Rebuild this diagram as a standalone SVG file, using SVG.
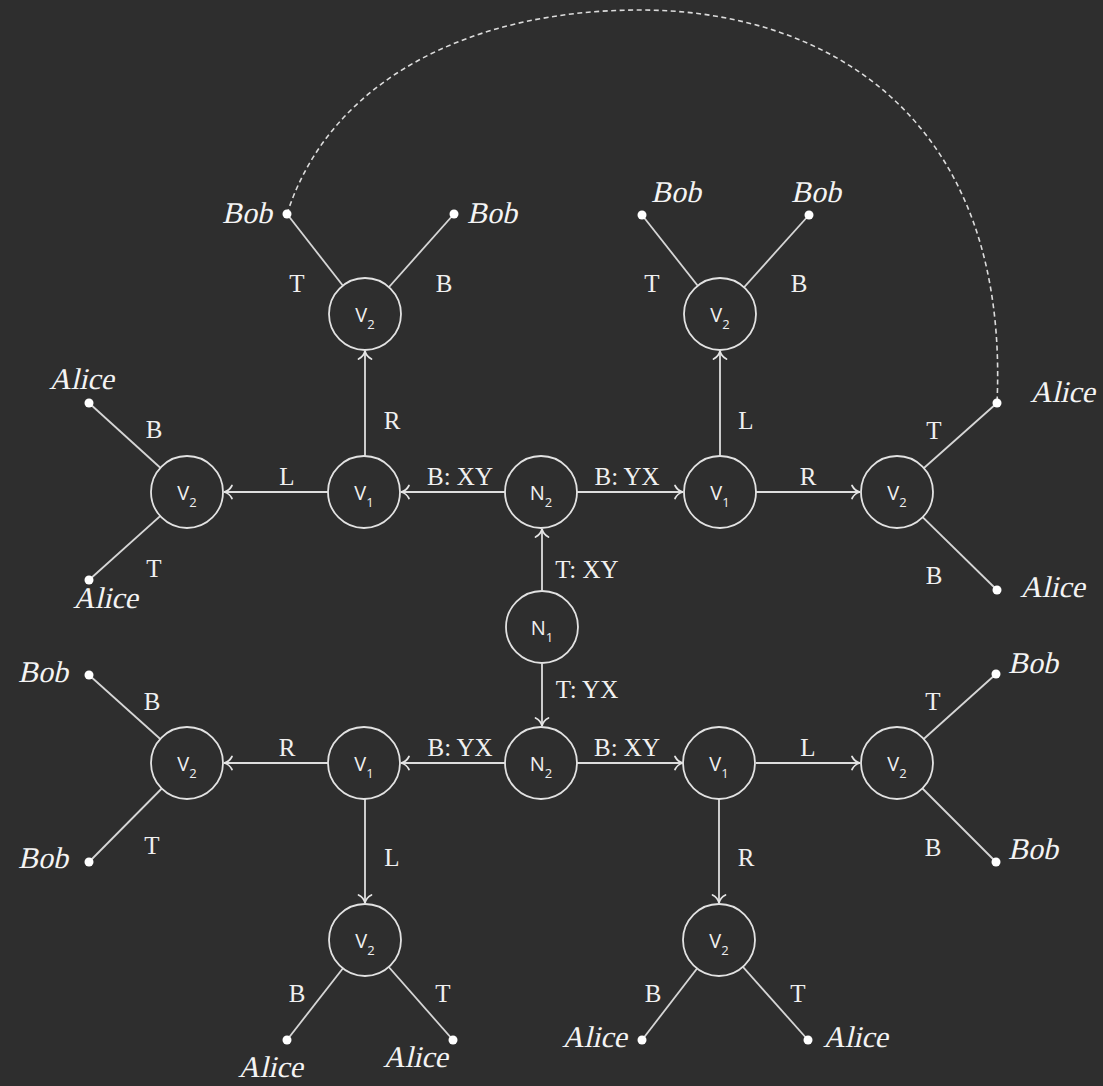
<svg xmlns="http://www.w3.org/2000/svg" width="1103" height="1086" viewBox="0 0 1103 1086">
<style>
.bg{fill:#2e2e2e}
.edge{stroke:#dedede;stroke-width:1.8;fill:none}
.leaf{stroke:#d6d6d6;stroke-width:1.8;fill:none}
.dash{stroke:#dcdcdc;stroke-width:1.6;fill:none;stroke-dasharray:5 3.5}
.node circle{fill:#2e2e2e;stroke:#e2e2e2;stroke-width:1.8}
.nl{font-family:"Open Sans","Liberation Sans",sans-serif;font-size:20px;fill:#f0f0f0;text-anchor:middle}
.sub{font-size:13px}
.el{font-family:"Liberation Serif","DejaVu Serif",serif;font-size:25px;fill:#f0f0f0;text-anchor:middle}
.name{font-family:"Liberation Serif","DejaVu Serif",serif;font-size:30px;fill:#f4f4f4}
.dot{fill:#ffffff}
</style>
<defs>
<marker id="arr" markerUnits="userSpaceOnUse" markerWidth="16" markerHeight="16" viewBox="-10 -8 12 16" refX="0" refY="0" orient="auto">
<path d="M-8,-6.5 C-6,-2.5 -2.5,-0.6 0,0 C-2.5,0.6 -6,2.5 -8,6.5" stroke="#e6e6e6" stroke-width="1.7" fill="none" stroke-linecap="round"/>
</marker>
</defs>
<rect class="bg" x="0" y="0" width="1103" height="1086"/>

<g id="connectors">
<!-- dashed arc -->
<path class="dash" d="M287,214 C330,80 470,10 640,10 C830,10 1010,120 997,403"/>
<!-- leaf lines -->
<line class="leaf" x1="365" y1="314" x2="287" y2="214"/>
<line class="leaf" x1="365" y1="314" x2="454" y2="214"/>
<line class="leaf" x1="720" y1="314" x2="642" y2="215"/>
<line class="leaf" x1="720" y1="314" x2="809" y2="215"/>
<line class="leaf" x1="187" y1="492" x2="89" y2="403"/>
<line class="leaf" x1="187" y1="492" x2="89" y2="580"/>
<line class="leaf" x1="897" y1="492" x2="997" y2="403"/>
<line class="leaf" x1="897" y1="492" x2="997" y2="590"/>
<line class="leaf" x1="187" y1="763" x2="89" y2="675"/>
<line class="leaf" x1="187" y1="763" x2="89" y2="862"/>
<line class="leaf" x1="897" y1="763" x2="996" y2="674"/>
<line class="leaf" x1="897" y1="763" x2="996" y2="862"/>
<line class="leaf" x1="365" y1="940" x2="287" y2="1040"/>
<line class="leaf" x1="365" y1="940" x2="453" y2="1040"/>
<line class="leaf" x1="719" y1="940" x2="642" y2="1040"/>
<line class="leaf" x1="719" y1="940" x2="808" y2="1040"/>
<!-- arrows -->
<line class="edge" x1="505" y1="492" x2="401" y2="492" marker-end="url(#arr)"/>
<line class="edge" x1="577" y1="492" x2="683" y2="492" marker-end="url(#arr)"/>
<line class="edge" x1="542" y1="590" x2="542" y2="529" marker-end="url(#arr)"/>
<line class="edge" x1="542" y1="664" x2="542" y2="726" marker-end="url(#arr)"/>
<line class="edge" x1="328" y1="492" x2="224" y2="492" marker-end="url(#arr)"/>
<line class="edge" x1="365" y1="456" x2="365" y2="351" marker-end="url(#arr)"/>
<line class="edge" x1="720" y1="456" x2="720" y2="351" marker-end="url(#arr)"/>
<line class="edge" x1="756" y1="492" x2="860" y2="492" marker-end="url(#arr)"/>
<line class="edge" x1="505" y1="763" x2="401" y2="763" marker-end="url(#arr)"/>
<line class="edge" x1="577" y1="763" x2="683" y2="763" marker-end="url(#arr)"/>
<line class="edge" x1="328" y1="763" x2="224" y2="763" marker-end="url(#arr)"/>
<line class="edge" x1="365" y1="799" x2="365" y2="903" marker-end="url(#arr)"/>
<line class="edge" x1="756" y1="763" x2="860" y2="763" marker-end="url(#arr)"/>
<line class="edge" x1="719" y1="799" x2="719" y2="903" marker-end="url(#arr)"/>
<!-- edge labels -->
<text class="el" x="460" y="485">B: XY</text>
<text class="el" x="627" y="485">B: YX</text>
<text class="el" x="287" y="485">L</text>
<text class="el" x="808" y="485">R</text>
<text class="el" x="392" y="429">R</text>
<text class="el" x="746" y="429">L</text>
<text class="el" x="587" y="578">T: XY</text>
<text class="el" x="587" y="698">T: YX</text>
<text class="el" x="460" y="756">B: YX</text>
<text class="el" x="627" y="756">B: XY</text>
<text class="el" x="287" y="756">R</text>
<text class="el" x="808" y="756">L</text>
<text class="el" x="392" y="866">L</text>
<text class="el" x="746" y="866">R</text>
<!-- leaf edge labels -->
<text class="el" x="297" y="292">T</text>
<text class="el" x="444" y="292">B</text>
<text class="el" x="652" y="292">T</text>
<text class="el" x="799" y="292">B</text>
<text class="el" x="154" y="438">B</text>
<text class="el" x="154" y="577">T</text>
<text class="el" x="934" y="439">T</text>
<text class="el" x="934" y="584">B</text>
<text class="el" x="152" y="710">B</text>
<text class="el" x="152" y="854">T</text>
<text class="el" x="933" y="710">T</text>
<text class="el" x="933" y="856">B</text>
<text class="el" x="297" y="1002">B</text>
<text class="el" x="443" y="1002">T</text>
<text class="el" x="653" y="1002">B</text>
<text class="el" x="798" y="1002">T</text>
</g>

<g id="n2-top" class="node"><circle cx="541" cy="492" r="36"/><text class="nl" x="541" y="500">N<tspan class="sub" dy="7">2</tspan></text></g>
<g id="n1" class="node"><circle cx="542" cy="627" r="36"/><text class="nl" x="542" y="635">N<tspan class="sub" dy="7">1</tspan></text></g>
<g id="n2-bottom" class="node"><circle cx="541" cy="763" r="36"/><text class="nl" x="541" y="771">N<tspan class="sub" dy="7">2</tspan></text></g>
<g id="v1-tl" class="node"><circle cx="364" cy="492" r="36"/><text class="nl" x="364" y="500">V<tspan class="sub" dy="7">1</tspan></text></g>
<g id="v1-tr" class="node"><circle cx="720" cy="492" r="36"/><text class="nl" x="720" y="500">V<tspan class="sub" dy="7">1</tspan></text></g>
<g id="v1-bl" class="node"><circle cx="364" cy="763" r="36"/><text class="nl" x="364" y="771">V<tspan class="sub" dy="7">1</tspan></text></g>
<g id="v1-br" class="node"><circle cx="719" cy="763" r="36"/><text class="nl" x="719" y="771">V<tspan class="sub" dy="7">1</tspan></text></g>
<g id="v2-left-top" class="node"><circle cx="187" cy="492" r="36"/><text class="nl" x="187" y="500">V<tspan class="sub" dy="7">2</tspan></text></g>
<g id="v2-right-top" class="node"><circle cx="897" cy="492" r="36"/><text class="nl" x="897" y="500">V<tspan class="sub" dy="7">2</tspan></text></g>
<g id="v2-up-left" class="node"><circle cx="365" cy="314" r="36"/><text class="nl" x="365" y="322">V<tspan class="sub" dy="7">2</tspan></text></g>
<g id="v2-up-right" class="node"><circle cx="720" cy="314" r="36"/><text class="nl" x="720" y="322">V<tspan class="sub" dy="7">2</tspan></text></g>
<g id="v2-left-bottom" class="node"><circle cx="187" cy="763" r="36"/><text class="nl" x="187" y="771">V<tspan class="sub" dy="7">2</tspan></text></g>
<g id="v2-right-bottom" class="node"><circle cx="897" cy="763" r="36"/><text class="nl" x="897" y="771">V<tspan class="sub" dy="7">2</tspan></text></g>
<g id="v2-down-left" class="node"><circle cx="365" cy="940" r="36"/><text class="nl" x="365" y="948">V<tspan class="sub" dy="7">2</tspan></text></g>
<g id="v2-down-right" class="node"><circle cx="719" cy="940" r="36"/><text class="nl" x="719" y="948">V<tspan class="sub" dy="7">2</tspan></text></g>

<g id="leaf-1"><circle class="dot" cx="287" cy="214" r="4.5"/><text class="name" transform="translate(222,223) skewX(-13)">Bob</text></g>
<g id="leaf-2"><circle class="dot" cx="454" cy="214" r="4.5"/><text class="name" transform="translate(467,223) skewX(-13)">Bob</text></g>
<g id="leaf-3"><circle class="dot" cx="642" cy="215" r="4.5"/><text class="name" transform="translate(651,202) skewX(-13)">Bob</text></g>
<g id="leaf-4"><circle class="dot" cx="809" cy="215" r="4.5"/><text class="name" transform="translate(791,202) skewX(-13)">Bob</text></g>
<g id="leaf-5"><circle class="dot" cx="89" cy="403" r="4.5"/><text class="name" transform="translate(49,389) skewX(-13)">Alice</text></g>
<g id="leaf-6"><circle class="dot" cx="89" cy="580" r="4.5"/><text class="name" transform="translate(73,608) skewX(-13)">Alice</text></g>
<g id="leaf-7"><circle class="dot" cx="997" cy="403" r="4.5"/><text class="name" transform="translate(1030,402) skewX(-13)">Alice</text></g>
<g id="leaf-8"><circle class="dot" cx="997" cy="590" r="4.5"/><text class="name" transform="translate(1020,597) skewX(-13)">Alice</text></g>
<g id="leaf-9"><circle class="dot" cx="89" cy="675" r="4.5"/><text class="name" transform="translate(18,682) skewX(-13)">Bob</text></g>
<g id="leaf-10"><circle class="dot" cx="89" cy="862" r="4.5"/><text class="name" transform="translate(18,868) skewX(-13)">Bob</text></g>
<g id="leaf-11"><circle class="dot" cx="996" cy="674" r="4.5"/><text class="name" transform="translate(1008,673) skewX(-13)">Bob</text></g>
<g id="leaf-12"><circle class="dot" cx="996" cy="862" r="4.5"/><text class="name" transform="translate(1008,859) skewX(-13)">Bob</text></g>
<g id="leaf-13"><circle class="dot" cx="287" cy="1040" r="4.5"/><text class="name" transform="translate(238,1077) skewX(-13)">Alice</text></g>
<g id="leaf-14"><circle class="dot" cx="453" cy="1040" r="4.5"/><text class="name" transform="translate(383,1067) skewX(-13)">Alice</text></g>
<g id="leaf-15"><circle class="dot" cx="642" cy="1040" r="4.5"/><text class="name" transform="translate(562,1047) skewX(-13)">Alice</text></g>
<g id="leaf-16"><circle class="dot" cx="808" cy="1040" r="4.5"/><text class="name" transform="translate(823,1047) skewX(-13)">Alice</text></g>
</svg>
